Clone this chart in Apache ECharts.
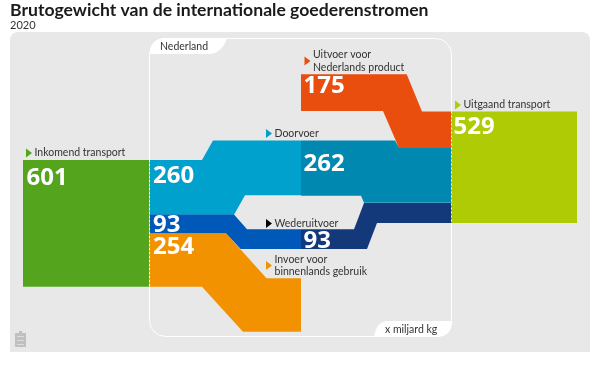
<!DOCTYPE html>
<html><head><meta charset="utf-8">
<style>html,body{margin:0;padding:0;background:#fff}#c{width:600px;height:367px}</style>
<script src="https://cdn.jsdelivr.net/npm/echarts@6/dist/echarts.min.js"></script>
</head><body><div id="c"></div>
<script>
// Values (x miljard kg)
const titleText = 'Brutogewicht van de internationale goederenstromen';
const yearText = '2020';
const unitText = 'x miljard kg';
const regionText = 'Nederland';
const flowNames = ['Inkomend transport','Uitgaand transport','Doorvoer in','Invoer','Wederuitvoer in','Doorvoer uit','Wederuitvoer uit','Uitvoer'];
const flowValues = [601,529,260,254,93,262,93,175];
const flowColors = ['#55a41e','#afcb05','#00a1cd','#f39200','#0058b8','#0088b0','#14397a','#e94e0f'];

// Routes: [x, level]; the lower edge is its level plus the flow's value.
const PX_PER_KG = 0.2108;
const upperEdges = [
  [[23,759],[149.5,759]],
  [[451.5,529],[577,529]],
  [[150,759],[202,759],[213,666.5],[301,666.5]],
  [[150,1107],[226,1107],[266.5,1320],[301,1320]],
  [[150,1017.5],[234,1017.5],[247,1088],[301,1088]],
  [[301,666.5],[395,666.5],[399,700],[451.5,700]],
  [[301,1088],[354,1088],[364,963],[451.5,963]],
  [[301,352],[406.7,352],[422,529],[451.5,529]]
];
const lowerEdges = [
  [[149.5,759],[23,759]],
  [[577,529],[451.5,529]],
  [[301,666.5],[245,666.5],[234,759],[150,759]],
  [[301,1320],[243,1320],[202,1106],[150,1106]],
  [[301,1088],[240.7,1088],[226,1014],[150,1014]],
  [[451.5,700],[364,700],[361,666.5],[301,666.5]],
  [[451.5,965],[377,965],[367,1088],[301,1088]],
  [[451.5,527],[399,527],[383,352],[301,352]]
];

// Captions: label lines, marker colour
const captionLines = [['Inkomend transport'],['Doorvoer'],['Uitvoer voor','Nederlands product'],['Uitgaand transport'],['Wederuitvoer'],['Invoer voor','binnenlands gebruik']];
const captionColors = ['#55a41e','#00a1cd','#e94e0f','#afcb05','#000000','#f39200'];
const captionAnchors = [[26,153],[266,133.5],[304.5,61],[455,105],[266,223.5],[266,265.5]];
const numberAnchors = [[26.5,178.5],[453.5,127],[153,176.5],[153,247],[153,225.5],[303.5,164.5],[303.5,241],[303.5,86.5]];

const tabPaths = [
  {d:'M150 54 Q150 38 166 38 L227 38 Q222 54 208 54 Z',x:150,y:38,width:77,height:16},
  {d:'M452 321 L386 321 Q376 323 374 337 L436 337 Q452 337 452 321 Z',x:374,y:321,width:78,height:16}
];

const chart = echarts.init(document.getElementById('c'));
const NUM = '"Noto Sans"', TXT = 'Lato';
chart.setOption({
  animation:false,
  backgroundColor:'#fff',
  title:{left:10,top:1,text:titleText,textStyle:{fontFamily:TXT,fontSize:17.6,fontWeight:'bold',color:'#1a1a1a',lineHeight:18},
    subtext:yearText,subtextStyle:{fontFamily:TXT,fontSize:11,color:'#333',lineHeight:12},itemGap:0,padding:0},
  grid:{left:0,right:0,top:0,bottom:0},
  xAxis:{type:'value',min:0,max:600,show:false},
  yAxis:{type:'value',min:0,max:367/PX_PER_KG,inverse:true,show:false},
  graphic:[
    {type:'rect',z:0,silent:true,shape:{x:10,y:32,width:580,height:320,r:[8,8,0,0]},style:{fill:'#e8e8e8'}},
    {type:'rect',z:1,silent:true,shape:{x:149.5,y:38.5,width:302,height:298,r:16},style:{fill:'none',stroke:'#fff',lineWidth:1}},
    {type:'text',z:10,silent:true,x:160,y:41,style:{text:regionText,fontFamily:TXT,fontSize:10.5,fill:'#333'}},
    {type:'text',z:10,silent:true,x:385,y:324,style:{text:unitText,fontFamily:TXT,fontSize:10.5,fill:'#333'}},
    {type:'rect',z:1,silent:true,shape:{x:15,y:333,width:11,height:14},style:{fill:'#c0c0c0'}},
    {type:'rect',z:1,silent:true,shape:{x:19,y:331,width:3,height:2},style:{fill:'#c0c0c0'}},
    {type:'rect',z:1,silent:true,shape:{x:17,y:336,width:7,height:1},style:{fill:'#dcdcdc'}},
    {type:'rect',z:1,silent:true,shape:{x:17,y:340,width:7,height:1},style:{fill:'#dcdcdc'}},
    {type:'rect',z:1,silent:true,shape:{x:17,y:344,width:7,height:1},style:{fill:'#dcdcdc'}}
  ],
  series:[
    {type:'custom',coordinateSystem:'none',silent:true,z:1,
     data:tabPaths.map((t,i)=>[i]),
     renderItem(p,api){
       const t=tabPaths[api.value(0)];
       return {type:'path',shape:{pathData:t.d,layout:'cover',x:t.x,y:t.y,width:t.width,height:t.height},style:{fill:'#fff'}};
     }},
    {type:'custom',coordinateSystem:'cartesian2d',silent:true,z:2,clip:false,
     data:flowValues.map((v,i)=>({name:flowNames[i],value:[i,v]})),
     encode:{x:0,y:1},
     renderItem(p,api){
       const i=api.value(0),v=api.value(1);
       const pts=upperEdges[i].map(d=>api.coord([d[0],d[1]]))
         .concat(lowerEdges[i].map(d=>api.coord([d[0],d[1]+v])));
       return {type:'polygon',shape:{points:pts},style:{fill:flowColors[i]}};
     }},
    {type:'custom',coordinateSystem:'cartesian2d',silent:true,z:4,clip:false,
     data:[[149.5,759,601],[451.5,529,529]],
     encode:{x:0,y:1},
     renderItem(p,api){
       const a=api.coord([api.value(0),api.value(1)]),b=api.coord([api.value(0),api.value(1)+api.value(2)]);
       return {type:'line',shape:{x1:a[0],y1:a[1],x2:b[0],y2:b[1]},style:{stroke:'#fff',lineWidth:1,lineDash:[2,2]}};
     }},
    {type:'custom',coordinateSystem:'cartesian2d',silent:true,z:5,clip:false,
     data:flowValues.map((v,i)=>[numberAnchors[i][0],numberAnchors[i][1]/PX_PER_KG,v]),
     encode:{x:0,y:1},
     renderItem(p,api){
       const a=api.coord([api.value(0),api.value(1)]);
       return {type:'text',x:a[0],y:a[1],style:{text:String(api.value(2)),fontFamily:NUM,fontSize:24,fontWeight:'bold',fill:'#fff',verticalAlign:'middle',align:'left'}};
     }},
    {type:'custom',coordinateSystem:'cartesian2d',silent:true,z:5,clip:false,
     data:captionAnchors.map((a,i)=>[a[0],a[1]/PX_PER_KG,i]),
     encode:{x:0,y:1},
     renderItem(p,api){
       const a=api.coord([api.value(0),api.value(1)]),i=api.value(2);
       return {type:'group',children:[
         {type:'polygon',shape:{points:[[a[0],a[1]-4.5],[a[0]+6,a[1]],[a[0],a[1]+4.5]]},style:{fill:captionColors[i]}},
         {type:'text',x:a[0]+8.5,y:a[1],style:{text:captionLines[i].join('\n'),fontFamily:TXT,fontSize:10.5,lineHeight:12.5,fill:'#333',verticalAlign:'middle',align:'left'}}
       ]};
     }}
  ]
});
</script></body></html>
